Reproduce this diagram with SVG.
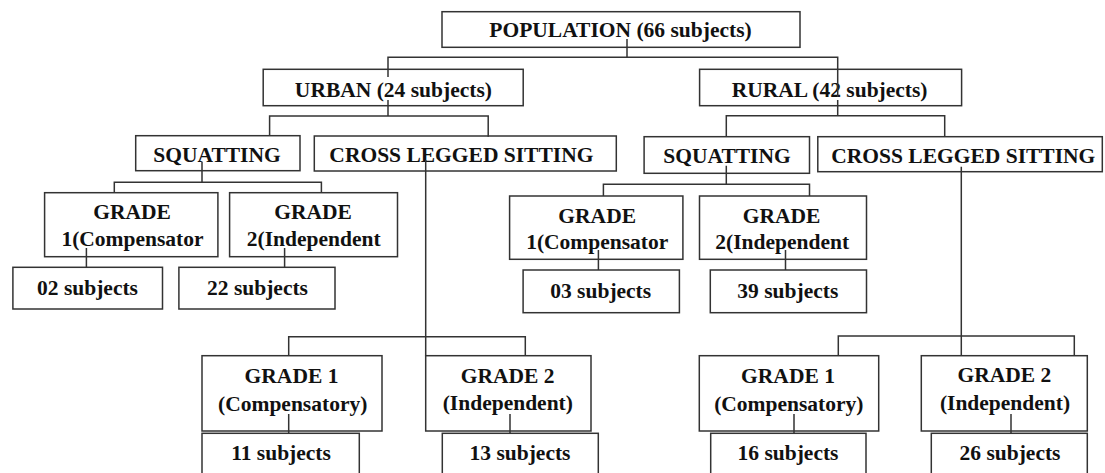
<svg xmlns="http://www.w3.org/2000/svg" width="1105" height="473" viewBox="0 0 1105 473">
<style>
.b{fill:#fff;stroke:#333;stroke-width:1.5}
.t{font-family:"Liberation Serif","Times New Roman",serif;font-weight:bold;font-size:21.5px;fill:#111;text-anchor:middle}
.c{fill:none;stroke:#333;stroke-width:1.5}
</style>
<rect width="1105" height="473" fill="#fff"/>
<g id="population"><rect class="b" x="442" y="11.7" width="358" height="35.6"/><text class="t" x="620.5" y="37.3">POPULATION (66 subjects)</text></g>
<g id="urban"><rect class="b" x="263.2" y="69.3" width="260" height="36.4"/><text class="t" x="393.4" y="96.7">URBAN (24 subjects)</text></g>
<g id="rural"><rect class="b" x="699.6" y="69.3" width="262" height="36.4"/><text class="t" x="829.6" y="96.7">RURAL (42 subjects)</text></g>
<g id="u-squat"><rect class="b" x="135.7" y="135.7" width="164.3" height="35"/><text class="t" x="217" y="162.3">SQUATTING</text></g>
<g id="u-cross"><rect class="b" x="314.3" y="136" width="302" height="35"/><text class="t" x="461.4" y="162.3">CROSS LEGGED SITTING</text></g>
<g id="r-squat"><rect class="b" x="644.1" y="136.7" width="165.4" height="36.6"/><text class="t" x="727" y="163.3">SQUATTING</text></g>
<g id="r-cross"><rect class="b" x="817.8" y="136.7" width="284.5" height="35"/><text class="t" x="963.3" y="163.3">CROSS LEGGED SITTING</text></g>
<g id="u-sq-g1"><rect class="b" x="44.6" y="192.7" width="173.3" height="64"/><text class="t" x="132" y="219">GRADE</text><text class="t" x="132.5" y="245.5">1(Compensator</text></g>
<g id="u-sq-g2"><rect class="b" x="229.6" y="192.7" width="167.9" height="64"/><text class="t" x="313" y="219">GRADE</text><text class="t" x="313.7" y="245.5">2(Independent</text></g>
<g id="u-sq-n1"><rect class="b" x="12.9" y="267.3" width="149.6" height="41.7"/><text class="t" x="87.5" y="295">02 subjects</text></g>
<g id="u-sq-n2"><rect class="b" x="178.9" y="267.3" width="156.1" height="41.7"/><text class="t" x="257.5" y="295">22 subjects</text></g>
<g id="r-sq-g1"><rect class="b" x="509.6" y="196" width="173.3" height="63.3"/><text class="t" x="597.2" y="222.7">GRADE</text><text class="t" x="597.2" y="249">1(Compensator</text></g>
<g id="r-sq-g2"><rect class="b" x="699.5" y="196" width="167" height="63.3"/><text class="t" x="781.6" y="222.7">GRADE</text><text class="t" x="782.2" y="249">2(Independent</text></g>
<g id="r-sq-n1"><rect class="b" x="523.1" y="270" width="156.3" height="42.7"/><text class="t" x="600.7" y="298.3">03 subjects</text></g>
<g id="r-sq-n2"><rect class="b" x="710.3" y="270" width="156.2" height="42.7"/><text class="t" x="787.8" y="298.3">39 subjects</text></g>
<g id="u-cr-g1"><rect class="b" x="202" y="355.7" width="180" height="75.3"/><text class="t" x="291.5" y="383.3">GRADE 1</text><text class="t" x="292.7" y="410.7">(Compensatory)</text></g>
<g id="u-cr-g2"><rect class="b" x="425.7" y="355.7" width="165.3" height="75.3"/><text class="t" x="507.6" y="383.3">GRADE 2</text><text class="t" x="507.8" y="410.3">(Independent)</text></g>
<g id="u-cr-n1"><rect class="b" x="202" y="433.3" width="157.3" height="50"/><text class="t" x="281" y="460">11 subjects</text></g>
<g id="u-cr-n2"><rect class="b" x="442.3" y="433.3" width="156" height="50"/><text class="t" x="520" y="460">13 subjects</text></g>
<g id="r-cr-g1"><rect class="b" x="699.3" y="355.7" width="179.4" height="75.3"/><text class="t" x="788" y="383.3">GRADE 1</text><text class="t" x="788.8" y="410.7">(Compensatory)</text></g>
<g id="r-cr-g2"><rect class="b" x="921.3" y="355.7" width="166" height="75.3"/><text class="t" x="1004.3" y="382.3">GRADE 2</text><text class="t" x="1005" y="410">(Independent)</text></g>
<g id="r-cr-n1"><rect class="b" x="710.7" y="433.3" width="155.3" height="50"/><text class="t" x="788" y="460">16 subjects</text></g>
<g id="r-cr-n2"><rect class="b" x="931.3" y="433.3" width="156" height="50"/><text class="t" x="1010" y="460">26 subjects</text></g>
<g id="connectors">
<path class="c" d="M627 39V57.3M388 77V57.3H837.7V97"/>
<path class="c" d="M388 100V116M269.6 136V116H488.2V136.7"/>
<path class="c" d="M837.7 100V115.7M726.3 136.7V115.7H944.7V136.7"/>
<path class="c" d="M202 161.7V182.3M114.3 192.7V182.3H321.4V192.7"/>
<path class="c" d="M726.3 165.7V184.3M603.4 196V184.3H809.5V196"/>
<path class="c" d="M86.4 248V267.3M284.6 248V267.3"/>
<path class="c" d="M598.4 250V270M785.5 250V270"/>
<path class="c" d="M425.7 160V355.7M288.7 355.7V336.7H525.3V355.7"/>
<path class="c" d="M961.3 166.7V355.7M838.3 355.7V336H1074.3V355.7"/>
<path class="c" d="M288.7 414V433.3M510 414V433.3M794 414V433.3M1011 414V433.3"/>
</g>
</svg>
